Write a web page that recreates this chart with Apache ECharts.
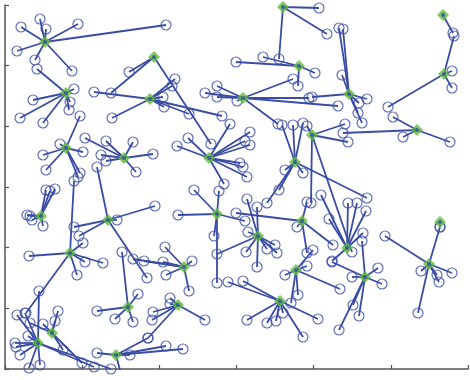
<!DOCTYPE html>
<html>
<head>
<meta charset="utf-8">
<script src="https://cdn.jsdelivr.net/npm/echarts@6/dist/echarts.min.js"></script>
<style>
  html, body { margin: 0; padding: 0; background: #fff; }
  #chart { width: 470px; height: 380px; }
</style>
</head>
<body>
<div id="chart"></div>
<script>
// cluster centres (green diamonds)
const centers = [
  [45, 42], [154, 57], [283, 7], [299, 66], [443, 15], [444, 74],
  [66, 93], [150, 99], [243, 98], [349, 94], [417, 130], [66, 148],
  [124, 158], [209, 158], [295, 162], [312, 135], [41, 216], [108, 220],
  [217, 214], [302, 221], [440, 222], [70, 253], [258, 236], [347, 248],
  [184, 267], [296, 270], [365, 277], [429, 264], [178, 305], [128, 307],
  [280, 301], [52, 333], [38, 343], [116, 355]
];

// points assigned to each centre (same order as centers)
const members = [
  [[21, 27], [40, 19], [46, 29], [78, 24], [17, 51], [35, 60], [72, 71], [166, 25]],
  [[111, 93], [129, 72], [211, 144]],
  [[279, 59], [319, 8], [327, 34]],
  [[263, 57], [236, 62], [315, 73], [298, 86]],
  [[453, 33]],
  [[454, 36], [452, 71], [452, 88], [388, 107]],
  [[37, 69], [74, 89], [33, 100], [20, 118], [43, 123], [70, 102], [69, 110]],
  [[94, 92], [112, 118], [175, 79], [172, 86], [163, 97], [164, 107], [189, 114], [222, 116]],
  [[217, 86], [205, 93], [217, 97], [237, 101], [293, 79], [309, 98], [338, 106], [278, 124]],
  [[339, 28], [343, 29], [342, 75], [367, 99], [359, 103], [358, 113], [362, 123], [312, 97]],
  [[393, 117], [403, 137], [450, 142], [343, 133]],
  [[80, 116], [60, 144], [83, 152], [43, 155], [46, 170], [80, 173], [78, 177]],
  [[85, 138], [106, 141], [133, 142], [153, 154], [101, 155], [106, 161], [136, 172]],
  [[188, 138], [177, 146], [230, 124], [245, 141], [250, 145], [250, 132], [240, 163], [243, 167], [247, 177], [224, 184]],
  [[282, 125], [293, 125], [303, 123], [285, 170], [303, 173], [279, 190], [267, 203], [367, 198]],
  [[307, 126], [345, 124], [348, 142], [311, 203], [352, 252]],
  [[46, 190], [50, 191], [55, 189], [27, 215], [30, 216], [32, 220], [43, 226]],
  [[97, 167], [155, 206], [117, 220], [74, 227], [79, 236], [147, 278]],
  [[178, 215], [194, 190], [219, 191], [214, 236], [245, 221], [217, 283]],
  [[236, 213], [297, 227], [307, 202], [333, 245], [307, 253]],
  [[440, 227]],
  [[74, 181], [29, 256], [77, 275], [103, 263], [85, 262], [83, 243], [26, 313]],
  [[217, 254], [247, 199], [257, 207], [248, 232], [246, 252], [257, 267], [267, 249], [275, 245], [277, 253]],
  [[348, 203], [357, 203], [366, 211], [363, 233], [321, 195], [329, 219], [332, 261]],
  [[165, 247], [163, 262], [192, 261], [189, 291], [166, 275], [133, 259], [144, 261]],
  [[313, 250], [285, 275], [307, 266], [340, 289], [298, 295], [291, 303]],
  [[352, 277], [378, 268], [382, 284], [362, 241], [359, 316], [339, 330], [353, 305], [332, 262]],
  [[421, 271], [437, 275], [439, 282], [452, 273], [418, 313], [440, 227], [385, 236]],
  [[170, 298], [205, 320], [153, 312], [152, 320], [148, 338], [170, 304]],
  [[122, 252], [138, 294], [97, 311], [115, 319], [133, 322]],
  [[228, 282], [243, 281], [247, 320], [267, 323], [276, 321], [283, 313], [303, 337], [318, 319]],
  [[30, 323], [43, 324], [58, 311], [55, 321], [82, 363], [63, 350]],
  [[39, 291], [25, 313], [17, 315], [15, 343], [16, 347], [28, 336], [20, 355], [29, 368], [40, 365], [94, 367], [111, 369]],
  [[97, 353], [130, 355], [120, 370], [148, 338], [166, 346], [183, 349]]
];

const blue = '#3a4ca4';
const green = '#5fba3c';

const edges = [];
const points = [];
centers.forEach((c, i) => {
  members[i].forEach(m => {
    edges.push({ coords: [c, m] });
    points.push(m);
  });
});

const chart = echarts.init(document.getElementById('chart'));
const axisCommon = {
  type: 'value',
  splitLine: { show: false },
  axisLabel: { show: false },
  axisLine: { onZero: false, lineStyle: { color: '#555', width: 1.5 } },
  axisTick: { inside: true, length: 4, lineStyle: { color: '#555', width: 1.2 } }
};
chart.setOption({
  animation: false,
  grid: { left: 5, right: 2, top: 5, bottom: 11, containLabel: false },
  xAxis: Object.assign({}, axisCommon, { min: 5, max: 468, interval: 77.1667, position: 'bottom' }),
  yAxis: Object.assign({}, axisCommon, { min: 5, max: 369, interval: 60.6667, inverse: true, position: 'left' }),
  series: [
    {
      type: 'lines',
      coordinateSystem: 'cartesian2d',
      data: edges,
      lineStyle: { color: blue, width: 1.8, opacity: 1 },
      z: 1
    },
    {
      type: 'scatter',
      data: points,
      symbol: 'circle',
      symbolSize: 10,
      itemStyle: { color: 'rgba(0,0,0,0)', borderColor: blue, borderWidth: 1.2 },
      z: 2
    },
    {
      type: 'scatter',
      data: centers,
      symbol: 'diamond',
      symbolSize: 12,
      itemStyle: { color: green },
      z: 3
    },
    {
      type: 'scatter',
      data: centers,
      symbol: 'circle',
      symbolSize: 4,
      itemStyle: { color: blue },
      z: 4
    }
  ]
});
</script>
</body>
</html>
